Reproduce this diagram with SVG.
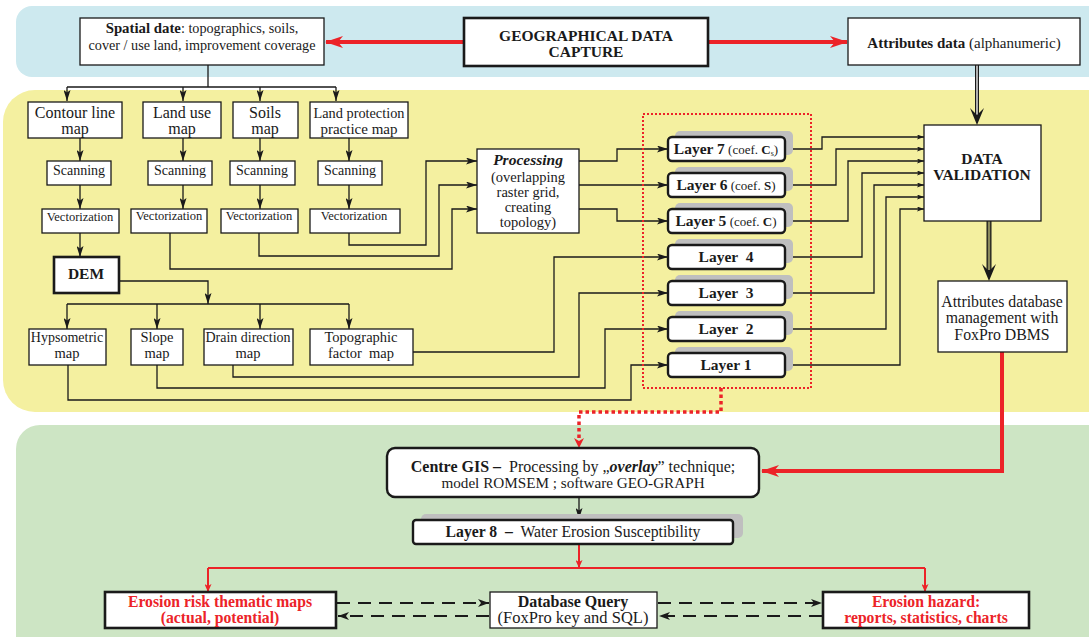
<svg xmlns="http://www.w3.org/2000/svg" width="1089" height="637" viewBox="0 0 1089 637">
<style>
.t{font-family:"Liberation Serif","Times New Roman",serif;fill:#1a1a1a}
.b{font-weight:bold}
.bx{fill:#fff;stroke:#1a1a1a;stroke-width:1.3}
.bx3{fill:#fff;stroke:#1a1a1a;stroke-width:2.6}
.ly{fill:#fff;stroke:#1a1a1a;stroke-width:2.4}
.sh{fill:#bfbfbf}
.ln{fill:none;stroke:#1a1a1a;stroke-width:1.3}
.red{fill:none;stroke:#ec2328;stroke-width:4}
.redt{fill:none;stroke:#ec2328;stroke-width:2}
.rt{fill:#ec2328}
.rtx{fill:#ec2328}
.dash{fill:none;stroke:#1a1a1a;stroke-width:2;stroke-dasharray:13 8}
</style>
<defs>
<marker id="a" markerUnits="userSpaceOnUse" markerWidth="11" markerHeight="7" refX="11" refY="3.5" orient="auto"><path d="M0,0 L11,3.5 L0,7 L2.5,3.5 z" fill="#1a1a1a"/></marker>
<marker id="as" markerUnits="userSpaceOnUse" markerWidth="7" markerHeight="5" refX="7" refY="2.5" orient="auto"><path d="M0,0 L7,2.5 L0,5 L1.5,2.5 z" fill="#1a1a1a"/></marker>
<marker id="ar" markerUnits="userSpaceOnUse" markerWidth="18" markerHeight="12" refX="17" refY="6" orient="auto"><path d="M0,0 L18,6 L0,12 L5,6 z" fill="#ec2328"/></marker>
<marker id="ars" markerUnits="userSpaceOnUse" markerWidth="8" markerHeight="7" refX="8" refY="3.5" orient="auto"><path d="M0,0 L8,3.5 L0,7 L2,3.5 z" fill="#ec2328"/></marker>
<marker id="ad" markerUnits="userSpaceOnUse" markerWidth="11" markerHeight="8" refX="11" refY="4" orient="auto"><path d="M0,0 L11,4 L0,8 L3,4 z" fill="#1a1a1a"/></marker>
</defs>

<!-- bands -->
<rect x="16" y="6" width="1100" height="71" rx="16" fill="#cde9ef"/>
<rect x="3" y="90" width="1120" height="322" rx="32" fill="#f4f0a0"/>
<rect x="16" y="425" width="1100" height="240" rx="24" fill="#cde5c4"/>

<!-- connectors -->
<g id="connectors">
  <line class="red" x1="464" y1="42" x2="326" y2="42" marker-end="url(#ar)"/>
  <line class="red" x1="708" y1="42" x2="847" y2="42" marker-end="url(#ar)"/>
  <path class="ln" d="M208,65 V87 M67,87 H336"/>
  <line class="ln" x1="67" y1="87" x2="67" y2="101" marker-end="url(#a)"/>
  <line class="ln" x1="183" y1="87" x2="183" y2="101" marker-end="url(#a)"/>
  <line class="ln" x1="260" y1="87" x2="260" y2="101" marker-end="url(#a)"/>
  <line class="ln" x1="336" y1="87" x2="336" y2="101" marker-end="url(#a)"/>
  <line class="ln" x1="80" y1="138" x2="80" y2="161" marker-end="url(#a)"/>
  <line class="ln" x1="183" y1="138" x2="183" y2="161" marker-end="url(#a)"/>
  <line class="ln" x1="260" y1="138" x2="260" y2="161" marker-end="url(#a)"/>
  <line class="ln" x1="349" y1="138" x2="349" y2="161" marker-end="url(#a)"/>
  <line class="ln" x1="80" y1="185" x2="80" y2="209" marker-end="url(#a)"/>
  <line class="ln" x1="183" y1="185" x2="183" y2="209" marker-end="url(#a)"/>
  <line class="ln" x1="260" y1="185" x2="260" y2="209" marker-end="url(#a)"/>
  <line class="ln" x1="349" y1="185" x2="349" y2="209" marker-end="url(#a)"/>
  <line class="ln" x1="80" y1="233" x2="80" y2="257" marker-end="url(#a)"/>
  <path class="ln" d="M170,233 V269 H452 V209 H477" marker-end="url(#a)"/>
  <path class="ln" d="M259,233 V256 H439 V185 H477" marker-end="url(#a)"/>
  <path class="ln" d="M349,233 V245 H426 V161 H477" marker-end="url(#a)"/>
  <path class="ln" d="M119,281 H208 V304" marker-end="url(#a)"/>
  <path class="ln" d="M67,304 H349"/>
  <line class="ln" x1="67" y1="304" x2="67" y2="329" marker-end="url(#a)"/>
  <line class="ln" x1="157" y1="304" x2="157" y2="329" marker-end="url(#a)"/>
  <line class="ln" x1="260" y1="304" x2="260" y2="329" marker-end="url(#a)"/>
  <line class="ln" x1="349" y1="304" x2="349" y2="329" marker-end="url(#a)"/>
  <path class="ln" d="M579,161 H617 V149 H668" marker-end="url(#a)"/>
  <path class="ln" d="M579,185 H668" marker-end="url(#a)"/>
  <path class="ln" d="M579,209 H617 V221 H668" marker-end="url(#a)"/>
  <path class="ln" d="M413,352 H554 V257 H668" marker-end="url(#a)"/>
  <path class="ln" d="M233,365 V377 H579 V293 H668" marker-end="url(#a)"/>
  <path class="ln" d="M157,365 V388 H605 V329 H668" marker-end="url(#a)"/>
  <path class="ln" d="M68,365 V400 H631 V365 H668" marker-end="url(#a)"/>
  <path class="ln" d="M785,149 H822 V137 H924" marker-end="url(#as)"/>
  <path class="ln" d="M785,185 H836 V149 H924" marker-end="url(#as)"/>
  <path class="ln" d="M785,221 H848 V161 H924" marker-end="url(#as)"/>
  <path class="ln" d="M785,257 H862 V173 H924" marker-end="url(#as)"/>
  <path class="ln" d="M785,293 H874 V185 H924" marker-end="url(#as)"/>
  <path class="ln" d="M785,329 H886 V197 H924" marker-end="url(#as)"/>
  <path class="ln" d="M785,365 H900 V209 H924" marker-end="url(#as)"/>
  <line x1="977" y1="65" x2="977" y2="118" stroke="#1a1a1a" stroke-width="4"/>
  <line x1="977" y1="65" x2="977" y2="115" stroke="#fff" stroke-width="1.3"/>
  <path d="M977,125 L970,108 L977,115 L984,108 z" fill="#1a1a1a"/>
  <line x1="989" y1="221" x2="989" y2="273" stroke="#1a1a1a" stroke-width="5"/>
  <line x1="989" y1="221" x2="989" y2="270" stroke="#8a8a5c" stroke-width="2.4"/>
  <path d="M989,281 L982,264 L989,271 L996,264 z" fill="#1a1a1a"/>
  <rect x="643" y="114" width="168" height="274" fill="none" stroke="#ec2328" stroke-width="2" stroke-dasharray="2 2"/>
  <path d="M721,388 V412 H579 V442" fill="none" stroke="#ec2328" stroke-width="3.5" stroke-dasharray="3.5 3"/>
  <path d="M579,448 L574,438 L579,441 L584,438 z" class="rt"/>
  <path class="red" d="M1002,352 V471 H762" marker-end="url(#ar)"/>
  <line class="ln" x1="579" y1="497" x2="579" y2="519" marker-end="url(#a)"/>
  <line class="redt" x1="579" y1="544" x2="579" y2="568" marker-end="url(#ars)"/>
  <path class="redt" d="M208,568 H925"/>
  <line class="redt" x1="208" y1="568" x2="208" y2="592" marker-end="url(#ars)"/>
  <line class="redt" x1="925" y1="568" x2="925" y2="592" marker-end="url(#ars)"/>
  <line class="dash" x1="337" y1="603" x2="489" y2="603" marker-end="url(#ad)"/>
  <line class="dash" x1="489" y1="616" x2="338" y2="616" marker-end="url(#ad)"/>
  <line class="dash" x1="658" y1="603" x2="822" y2="603" marker-end="url(#ad)"/>
  <line class="dash" x1="822" y1="616" x2="659" y2="616" marker-end="url(#ad)"/>
</g>

<g id="spatial">
  <rect class="bx" x="80" y="18" width="244" height="47"/>
  <text class="t" x="202" y="33" text-anchor="middle" font-size="14.2"><tspan class="b" font-size="14.8">Spatial date</tspan>: topographics, soils,</text>
  <text class="t" x="202" y="50" text-anchor="middle" font-size="14.2">cover / use land, improvement coverage</text>
</g>
<g id="geo">
  <rect class="bx3" x="464" y="18" width="244" height="48" stroke-width="3"/>
  <text class="t b" x="586" y="41" text-anchor="middle" font-size="15.5">GEOGRAPHICAL DATA</text>
  <text class="t b" x="586" y="57" text-anchor="middle" font-size="15.5">CAPTURE</text>
</g>
<g id="attributes">
  <rect class="bx" x="848" y="18" width="232" height="47"/>
  <text class="t" x="964" y="48" text-anchor="middle" font-size="15"><tspan class="b">Attributes data</tspan> (alphanumeric)</text>
</g>

<g id="contour">
  <rect class="bx" x="28" y="102" width="94" height="36"/>
  <text class="t" x="75" y="118" text-anchor="middle" font-size="16">Contour line</text>
  <text class="t" x="75" y="134" text-anchor="middle" font-size="16">map</text>
</g>
<g id="landuse">
  <rect class="bx" x="143" y="102" width="78" height="36"/>
  <text class="t" x="182" y="118" text-anchor="middle" font-size="16">Land use</text>
  <text class="t" x="182" y="134" text-anchor="middle" font-size="16">map</text>
</g>
<g id="soils">
  <rect class="bx" x="233" y="102" width="65" height="36"/>
  <text class="t" x="265" y="118" text-anchor="middle" font-size="16">Soils</text>
  <text class="t" x="265" y="134" text-anchor="middle" font-size="16">map</text>
</g>
<g id="landprot">
  <rect class="bx" x="310" y="102" width="98" height="36"/>
  <text class="t" x="359" y="118" text-anchor="middle" font-size="14.3">Land protection</text>
  <text class="t" x="359" y="134" text-anchor="middle" font-size="15">practice map</text>
</g>
<g id="scan1"><rect class="bx" x="47" y="161" width="64" height="24"/><text class="t" x="79" y="175" text-anchor="middle" font-size="14">Scanning</text></g>
<g id="scan2"><rect class="bx" x="148" y="161" width="64" height="24"/><text class="t" x="180" y="175" text-anchor="middle" font-size="14">Scanning</text></g>
<g id="scan3"><rect class="bx" x="230" y="161" width="65" height="24"/><text class="t" x="262" y="175" text-anchor="middle" font-size="14">Scanning</text></g>
<g id="scan4"><rect class="bx" x="318" y="161" width="64" height="24"/><text class="t" x="350" y="175" text-anchor="middle" font-size="14">Scanning</text></g>
<g id="vect1"><rect class="bx" x="42" y="209" width="77" height="24"/><text class="t" x="80" y="221" text-anchor="middle" font-size="12.5">Vectorization</text></g>
<g id="vect2"><rect class="bx" x="131" y="209" width="76" height="24"/><text class="t" x="169" y="220" text-anchor="middle" font-size="12.5">Vectorization</text></g>
<g id="vect3"><rect class="bx" x="221" y="209" width="77" height="24"/><text class="t" x="259" y="220" text-anchor="middle" font-size="12.5">Vectorization</text></g>
<g id="vect4"><rect class="bx" x="310" y="209" width="90" height="24"/><text class="t" x="354" y="220" text-anchor="middle" font-size="12.5">Vectorization</text></g>
<g id="dem">
  <rect class="bx3" x="54" y="257" width="65" height="36" stroke-width="3"/>
  <text class="t b" x="86" y="279" text-anchor="middle" font-size="15.5">DEM</text>
</g>
<g id="hyps">
  <rect class="bx" x="29" y="329" width="77" height="36"/>
  <text class="t" x="67" y="342" text-anchor="middle" font-size="14">Hypsometric</text>
  <text class="t" x="67" y="358" text-anchor="middle" font-size="14.5">map</text>
</g>
<g id="slope">
  <rect class="bx" x="131" y="329" width="52" height="36"/>
  <text class="t" x="157" y="342" text-anchor="middle" font-size="14.5">Slope</text>
  <text class="t" x="157" y="358" text-anchor="middle" font-size="14.5">map</text>
</g>
<g id="drain">
  <rect class="bx" x="204" y="329" width="89" height="36"/>
  <text class="t" x="248" y="342" text-anchor="middle" font-size="14">Drain direction</text>
  <text class="t" x="248" y="358" text-anchor="middle" font-size="14.5">map</text>
</g>
<g id="topo">
  <rect class="bx" x="310" y="329" width="103" height="36"/>
  <text class="t" x="361" y="342" text-anchor="middle" font-size="14.5">Topographic</text>
  <text class="t" x="361" y="358" text-anchor="middle" font-size="14.5" xml:space="preserve">factor  map</text>
</g>
<g id="processing">
  <rect class="bx" x="477" y="149" width="102" height="84"/>
  <text class="t b" x="528" y="165" text-anchor="middle" font-size="15.5" font-style="italic">Processing</text>
  <text class="t" x="528" y="182" text-anchor="middle" font-size="14.5">(overlapping</text>
  <text class="t" x="528" y="197" text-anchor="middle" font-size="14.5">raster grid,</text>
  <text class="t" x="528" y="212" text-anchor="middle" font-size="14.5">creating</text>
  <text class="t" x="528" y="227" text-anchor="middle" font-size="14.5">topology)</text>
</g>

<g id="layer7">
  <rect class="sh" x="675" y="131" width="118" height="24" rx="5"/>
  <rect class="ly" x="668" y="137" width="117" height="24" rx="4"/>
  <text class="t" x="726" y="154" text-anchor="middle"><tspan class="b" font-size="15.5">Layer 7</tspan><tspan font-size="13"> (coef. </tspan><tspan class="b" font-size="13">C</tspan><tspan font-size="8" dy="2">s</tspan><tspan font-size="13" dy="-2">)</tspan></text>
</g>
<g id="layer6">
  <rect class="sh" x="675" y="167" width="118" height="24" rx="5"/>
  <rect class="ly" x="668" y="173" width="117" height="24" rx="4"/>
  <text class="t" x="726" y="190" text-anchor="middle"><tspan class="b" font-size="15.5">Layer 6</tspan><tspan font-size="13"> (coef. </tspan><tspan class="b" font-size="13">S</tspan><tspan font-size="13">)</tspan></text>
</g>
<g id="layer5">
  <rect class="sh" x="675" y="203" width="118" height="24" rx="5"/>
  <rect class="ly" x="668" y="209" width="117" height="24" rx="4"/>
  <text class="t" x="726" y="226" text-anchor="middle"><tspan class="b" font-size="15.5">Layer 5</tspan><tspan font-size="13"> (coef. </tspan><tspan class="b" font-size="13">C</tspan><tspan font-size="13">)</tspan></text>
</g>
<g id="layer4">
  <rect class="sh" x="675" y="239" width="118" height="24" rx="5"/>
  <rect class="ly" x="668" y="245" width="117" height="24" rx="4"/>
  <text class="t b" x="726" y="262" text-anchor="middle" font-size="15.5" xml:space="preserve">Layer  4</text>
</g>
<g id="layer3">
  <rect class="sh" x="675" y="275" width="118" height="24" rx="5"/>
  <rect class="ly" x="668" y="281" width="117" height="24" rx="4"/>
  <text class="t b" x="726" y="298" text-anchor="middle" font-size="15.5" xml:space="preserve">Layer  3</text>
</g>
<g id="layer2">
  <rect class="sh" x="675" y="311" width="118" height="24" rx="5"/>
  <rect class="ly" x="668" y="317" width="117" height="24" rx="4"/>
  <text class="t b" x="726" y="334" text-anchor="middle" font-size="15.5" xml:space="preserve">Layer  2</text>
</g>
<g id="layer1">
  <rect class="sh" x="675" y="347" width="118" height="24" rx="5"/>
  <rect class="ly" x="668" y="353" width="117" height="24" rx="4"/>
  <text class="t b" x="726" y="370" text-anchor="middle" font-size="15.5">Layer 1</text>
</g>

<g id="validation">
  <rect class="bx" x="924" y="125" width="117" height="96"/>
  <text class="t b" x="982" y="164" text-anchor="middle" font-size="15.5">DATA</text>
  <text class="t b" x="982" y="180" text-anchor="middle" font-size="15.5">VALIDATION</text>
</g>
<g id="attrdb">
  <rect class="bx" x="938" y="281" width="129" height="71"/>
  <text class="t" x="1002" y="307" text-anchor="middle" font-size="15.8">Attributes database</text>
  <text class="t" x="1002" y="323" text-anchor="middle" font-size="15.8">management with</text>
  <text class="t" x="1002" y="340" text-anchor="middle" font-size="15.8">FoxPro DBMS</text>
</g>

<g id="centregis">
  <rect class="ly" x="387" y="448" width="372" height="49" rx="8"/>
  <text class="t" x="573" y="472" text-anchor="middle" font-size="16" xml:space="preserve"><tspan class="b">Centre GIS –</tspan>  Processing by „<tspan class="b" font-style="italic">overlay</tspan>” technique;</text>
  <text class="t" x="573" y="488" text-anchor="middle" font-size="15.2">model ROMSEM ; software GEO-GRAPH</text>
</g>
<g id="layer8">
  <rect class="sh" x="421" y="514" width="322" height="24" rx="5"/>
  <rect class="ly" x="413" y="520" width="320" height="24" rx="3"/>
  <text class="t" x="573" y="537" text-anchor="middle" font-size="15.7" xml:space="preserve"><tspan class="b">Layer 8  –</tspan>  Water Erosion Susceptibility</text>
</g>
<g id="erosionrisk">
  <rect class="bx3" x="105" y="592" width="231" height="36"/>
  <text class="t b rtx" x="220" y="607" text-anchor="middle" font-size="15.7" style="fill:#ec2328">Erosion risk thematic maps</text>
  <text class="t b rtx" x="220" y="623" text-anchor="middle" font-size="15.7" style="fill:#ec2328">(actual, potential)</text>
</g>
<g id="dbquery">
  <rect class="bx" x="490" y="592" width="167" height="36"/>
  <text class="t b" x="573" y="607" text-anchor="middle" font-size="16">Database Query</text>
  <text class="t" x="573" y="623" text-anchor="middle" font-size="16.5">(FoxPro key and SQL)</text>
</g>
<g id="hazard">
  <rect class="bx3" x="823" y="592" width="206" height="36"/>
  <text class="t b rtx" x="926" y="607" text-anchor="middle" font-size="15.7" style="fill:#ec2328">Erosion hazard:</text>
  <text class="t b rtx" x="926" y="623" text-anchor="middle" font-size="15.7" style="fill:#ec2328">reports, statistics, charts</text>
</g>
</svg>
